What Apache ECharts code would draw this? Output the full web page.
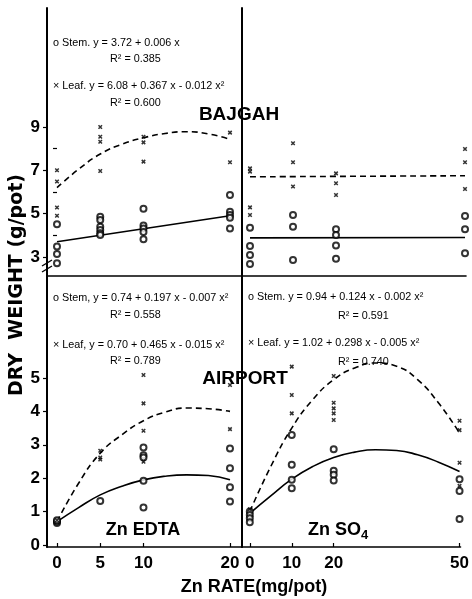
<!DOCTYPE html>
<html>
<head>
<meta charset="utf-8">
<script src="https://cdn.jsdelivr.net/npm/echarts@6/dist/echarts.min.js"></script>
<style>html,body{margin:0;padding:0;background:#fff;}#c{width:472px;height:599px;}</style>
</head>
<body>
<div id="c"></div>
<script>
// ---------- DATA ----------
// Bajgah, Zn EDTA (top-left)
const tlLeaf = [[0,7.0],[0,6.48],[0,5.28],[0,4.9],[5,9.0],[5,8.55],[5,8.32],[5,6.97],[10,8.55],[10,8.29],[10,7.4],[20,8.74],[20,7.37]];
const tlStem = [[0,4.51],[0,3.48],[0,3.14],[0,2.71],[5,4.86],[5,4.71],[5,4.40],[5,4.25],[5,4.09],[5,4.02],[10,5.23],[10,4.45],[10,4.32],[10,4.15],[10,3.82],[20,5.86],[20,5.09],[20,4.94],[20,4.81],[20,4.32]];
const edtaFitX = [0,2.5,5,7.5,10,12.5,15,17.5,20];
const tlLeafFitY = [6.2,7.05,7.75,8.2,8.5,8.7,8.78,8.68,8.43];
const tlStemFitX = [0,20];
const tlStemFitY = [3.7,4.9];
// Bajgah, Zn SO4 (top-right)
const trLeaf = [[0,7.09],[0,6.94],[0,5.29],[0,4.94],[10,8.25],[10,7.37],[10,6.25],[20,6.86],[20,6.40],[20,5.86],[50,7.98],[50,7.37],[50,6.14]];
const trStem = [[0,4.35],[0,3.51],[0,3.09],[0,2.68],[10,4.94],[10,4.40],[10,2.86],[20,4.28],[20,4.02],[20,3.53],[20,2.92],[50,4.89],[50,4.28],[50,3.17]];
const trFitX = [0,50];
const trLeafFitY = [6.7,6.75];
const trStemFitY = [3.88,3.9];
// Airport, Zn EDTA (bottom-left)
const blLeaf = [[0,0.74],[5,2.82],[5,2.62],[5,2.56],[10,5.09],[10,4.24],[10,3.42],[10,2.49],[20,4.79],[20,3.47]];
const blStem = [[0,0.66],[0,0.70],[0,0.74],[5,1.32],[10,2.92],[10,2.69],[10,2.62],[10,1.92],[10,1.12],[20,2.89],[20,2.30],[20,1.73],[20,1.30]];
const blLeafFitY = [0.7,1.85,2.75,3.3,3.72,3.98,4.1,4.08,4.0];
const blStemFitY = [0.7,1.12,1.5,1.76,1.95,2.06,2.1,2.08,1.95];
// Airport, Zn SO4 (bottom-right)
const brLeaf = [[0,1.07],[10,5.34],[10,4.49],[10,3.94],[20,5.06],[20,4.26],[20,4.09],[20,3.94],[20,3.74],[50,3.72],[50,3.44],[50,2.46],[50,1.77]];
const brStem = [[0,1.0],[0,0.9],[0,0.8],[0,0.68],[10,3.29],[10,2.40],[10,1.95],[10,1.70],[20,2.87],[20,2.22],[20,2.10],[20,1.93],[50,1.97],[50,1.62],[50,0.78]];
const so4FitX = [0,5,10,15,20,25,30,35,40,45,50];
const brLeafFitY = [1.0,2.35,3.5,4.35,4.95,5.3,5.45,5.35,4.95,4.25,3.35];
const brStemFitY = [0.95,1.47,1.97,2.35,2.62,2.78,2.85,2.83,2.7,2.48,2.2];
// tick labels
const edtaTicks = [0,5,10,20];
const so4Ticks = [0,10,20,50];
const topYTicks = [3,5,7,9];
const topYMinor = [4,6,8];
const botYTicks = [0,1,2,3,4,5];

// ---------- CHART ----------
const FONT = 'Liberation Sans';
const zip = (xs, ys) => xs.map((x, i) => [x, ys[i]]);
const cross = 'path://M0,0L10,10M10,0L0,10';

const grids = [
  {left:47, top:8, width:195, height:268},
  {left:242, top:8, width:224, height:268},
  {left:47, top:276, width:195, height:271},
  {left:242, top:276, width:224, height:271}
];
const xr = [[-1.156,21.39],[-1.86,50.23],[-1.156,21.39],[-1.86,50.23]];
const yr = [[2.123,14.49],[2.123,14.49],[-0.06,8.054],[-0.06,8.054]];

const xAxis = grids.map((g, i) => ({
  type:'value', gridIndex:i, min:xr[i][0], max:xr[i][1],
  splitLine:{show:false},
  axisLine:{show:true, onZero:false, lineStyle:{color:'#000', width:1.6}},
  axisTick:{show:i>=2, inside:true, length:4, lineStyle:{color:'#000', width:1.2},
    customValues: i===2 ? edtaTicks : so4Ticks},
  axisLabel:{show:i>=2, customValues: i===2 ? edtaTicks : so4Ticks, margin:8,
    color:'#000', fontFamily:FONT, fontWeight:'bold', fontSize:17}
}));

const yAxis = grids.map((g, i) => ({
  type:'value', gridIndex:i, min:yr[i][0], max:yr[i][1],
  splitLine:{show:false},
  axisLine:{show:true, onZero:false, lineStyle:{color:'#000', width:2}},
  axisTick:{show:(i===0||i===2), inside:false, length:4, lineStyle:{color:'#000', width:1.2},
    customValues: i===0 ? topYTicks : botYTicks},
  axisLabel:{show:(i===0||i===2), customValues: i===0 ? topYTicks : botYTicks, margin:7,
    color:'#000', fontFamily:FONT, fontWeight:'bold', fontSize:17}
}));
yAxis.push({
  type:'value', gridIndex:0, min:yr[0][0], max:yr[0][1],
  splitLine:{show:false}, axisLine:{show:false}, axisLabel:{show:false},
  axisTick:{show:true, inside:true, length:4, customValues:topYMinor, lineStyle:{color:'#000', width:1.2}}
});

const panels = [
  {leaf:tlLeaf, stem:tlStem, leafFit:zip(edtaFitX, tlLeafFitY), stemFit:zip(tlStemFitX, tlStemFitY)},
  {leaf:trLeaf, stem:trStem, leafFit:zip(trFitX, trLeafFitY), stemFit:zip(trFitX, trStemFitY)},
  {leaf:blLeaf, stem:blStem, leafFit:zip(edtaFitX, blLeafFitY), stemFit:zip(edtaFitX, blStemFitY)},
  {leaf:brLeaf, stem:brStem, leafFit:zip(so4FitX, brLeafFitY), stemFit:zip(so4FitX, brStemFitY)}
];

const series = [];
panels.forEach((p, i) => {
  series.push({type:'line', xAxisIndex:i, yAxisIndex:i, data:p.leafFit, smooth:true, symbol:'none',
    lineStyle:{color:'#000', width:1.6, type:[6,4]}, z:2, silent:true});
  series.push({type:'line', xAxisIndex:i, yAxisIndex:i, data:p.stemFit, smooth:true, symbol:'none',
    lineStyle:{color:'#000', width:1.6, type:'solid'}, z:2, silent:true});
  series.push({type:'scatter', xAxisIndex:i, yAxisIndex:i, data:p.stem, symbol:'emptyCircle', symbolSize:6,
    itemStyle:{color:'#000', borderColor:'#000', borderWidth:1.3}, z:3});
  series.push({type:'scatter', xAxisIndex:i, yAxisIndex:i, data:p.leaf, symbol:cross, symbolSize:3.5,
    itemStyle:{color:'none', borderColor:'#000', borderWidth:1.5}, z:3});
});

const EQ = 10.8;
function txt(text, x, y, size, bold, extra) {
  return Object.assign({type:'text', x:x, y:y, z:10, style:{text:text, fill:'#000',
    font:(bold?'bold ':'') + size + 'px "' + FONT + '"',
    textAlign:'left', textVerticalAlign:'middle', align:'left', verticalAlign:'middle'}}, extra||{});
}
function ctxt(text, x, y, size, font) {
  return {type:'text', x:x, y:y, z:10, style:{text:text, fill:'#000',
    font:'bold ' + size + 'px "' + (font||FONT) + '"',
    textAlign:'center', textVerticalAlign:'middle', align:'center', verticalAlign:'middle'}};
}

const graphic = [
  // equations
  txt('o Stem. y = 3.72 + 0.006 x', 53, 43, EQ),
  txt('R² = 0.385', 110, 59, EQ),
  txt('× Leaf. y = 6.08 + 0.367 x - 0.012 x²', 53, 86, EQ),
  txt('R² = 0.600', 110, 103, EQ),
  txt('o Stem, y = 0.74 + 0.197 x - 0.007 x²', 53, 298, EQ),
  txt('R² = 0.558', 110, 315, EQ),
  txt('× Leaf, y = 0.70 + 0.465 x - 0.015 x²', 53, 345, EQ),
  txt('R² = 0.789', 110, 361, EQ),
  txt('o Stem. y = 0.94 + 0.124 x - 0.002 x²', 248, 297, EQ),
  txt('R² = 0.591', 338, 316, EQ),
  txt('× Leaf. y = 1.02 + 0.298 x - 0.005 x²', 248, 343, EQ),
  txt('R² = 0.740', 338, 362, EQ),
  // site & treatment labels
  ctxt('BAJGAH', 239, 115, 19),
  ctxt('AIRPORT', 245, 379, 19),
  ctxt('Zn EDTA', 143, 530, 18),
  {type:'text', x:308, y:530, z:10, style:{text:'{a|Zn SO}{b|4}', fill:'#000',
    textAlign:'left', textVerticalAlign:'middle', align:'left', verticalAlign:'middle',
    rich:{a:{font:'bold 18px "' + FONT + '"', fill:'#000'},
          b:{font:'bold 13px "' + FONT + '"', fill:'#000', padding:[10,0,0,0]}}}},
  // axis titles
  ctxt('Zn RATE(mg/pot)', 254, 587, 18),
  {type:'text', x:17, y:285, rotation:Math.PI/2, z:10, style:{text:'DRY  WEIGHT (g/pot)', fill:'#000',
    font:'bold 19px "DejaVu Sans"', textAlign:'center', textVerticalAlign:'middle', align:'center', verticalAlign:'middle'}},
  // axis break marks
  {type:'line', z:10, shape:{x1:42, y1:266, x2:52, y2:260}, style:{stroke:'#000', lineWidth:1.4}},
  {type:'line', z:10, shape:{x1:42, y1:272, x2:52, y2:266}, style:{stroke:'#000', lineWidth:1.4}}
];

const chart = echarts.init(document.getElementById('c'), null, {renderer:'canvas'});
chart.setOption({
  animation:false,
  backgroundColor:'#fff',
  grid:grids,
  xAxis:xAxis,
  yAxis:yAxis,
  series:series,
  graphic:graphic
});
</script>
</body>
</html>
